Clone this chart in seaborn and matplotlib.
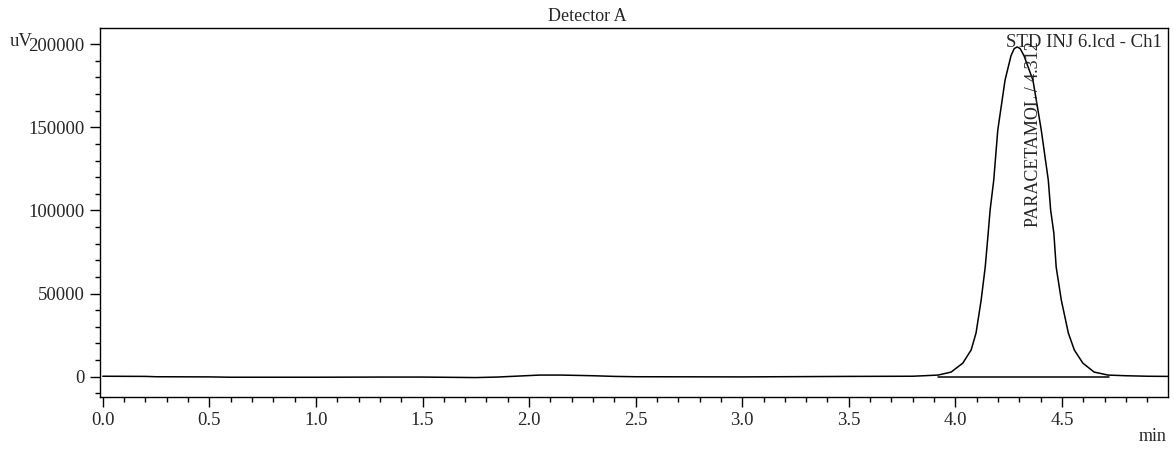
import pandas as pd
import matplotlib.pyplot as plt
import seaborn as sns
from matplotlib.ticker import MultipleLocator

# chromatogram (time in min, signal in uV)
time_min = [0.00, 0.20, 0.25, 0.50, 0.60, 1.00, 1.30, 1.50, 1.75, 1.85, 1.95,
            2.05, 2.15, 2.30, 2.40, 2.50, 3.00, 3.50, 3.80, 3.919, 3.980,
            4.035, 4.074, 4.097, 4.121, 4.140, 4.154, 4.163, 4.180, 4.199,
            4.233, 4.261, 4.276, 4.290, 4.304, 4.322, 4.364, 4.403, 4.436, 4.447,
            4.462, 4.473, 4.497, 4.530, 4.558, 4.598, 4.651, 4.716, 4.80, 4.90, 5.00]
signal_uv = [300, 200, 0, -100, -300, -300, -200, -200, -500, -200, 400,
             1000, 1000, 600, 200, 0, -100, 200, 300, 1000, 2800,
             8200, 16100, 26300, 46100, 65900, 86400, 100200, 118200, 148300,
             178300, 193000, 197300, 198300, 197300, 193000, 178300, 148300, 118200, 100200,
             86400, 65900, 46100, 26300, 16100, 8200, 2800, 1000, 600, 300, 200]

# integration baseline under the peak
peak_bounds = [3.92, 4.72]
peak_base = [0, 0]

peak_name = "PARACETAMOL / 4.312"
file_label = "STD INJ 6.lcd - Ch1"

df = pd.DataFrame({"time": time_min, "signal": signal_uv})
base = pd.DataFrame({"time": peak_bounds, "signal": peak_base})

sns.set_style("ticks")
plt.rcParams["font.family"] = ["Liberation Serif", "DejaVu Serif"]
plt.rcParams["font.size"] = 13

fig = plt.figure(figsize=(11.74, 4.53), dpi=100)
ax = fig.add_axes([0.0852, 0.1243, 0.9094, 0.8132])

sns.lineplot(data=df, x="time", y="signal", color="black", lw=1.1, ax=ax, sort=False)
sns.lineplot(data=base, x="time", y="signal", color="black", lw=1.1, ax=ax)

ax.set_xlim(-0.013, 4.996)
ax.set_ylim(-12000, 209500)
ax.xaxis.set_major_locator(MultipleLocator(0.5))
ax.xaxis.set_minor_locator(MultipleLocator(0.1))
ax.yaxis.set_major_locator(MultipleLocator(50000))
ax.yaxis.set_minor_locator(MultipleLocator(10000))
ax.xaxis.set_major_formatter(lambda v, p: f"{v:.1f}")
ax.yaxis.set_major_formatter(lambda v, p: f"{v:.0f}")
ax.tick_params(which="major", length=7, width=1, color="black", labelsize=13.5, pad=4)
ax.tick_params(which="minor", length=3.5, width=1, color="black")
ax.set_xlabel("")
ax.set_ylabel("")
for s in ax.spines.values():
    s.set_color("black")
    s.set_linewidth(1.0)

ax.text(0.456, 1.01, "Detector A", transform=ax.transAxes, ha="center", va="bottom", fontsize=13)
fig.text(0.008, 0.898, "uV", ha="left", va="baseline", fontsize=13.5)
fig.text(0.994, 0.018, "min", ha="right", va="bottom", fontsize=13)
ax.text(0.995, 0.985, file_label, transform=ax.transAxes, ha="right", va="top", fontsize=13.5)
ax.text(4.365, 90000, peak_name, rotation=90, ha="center", va="bottom", fontsize=13)

fig.savefig("out.png", dpi=100)
